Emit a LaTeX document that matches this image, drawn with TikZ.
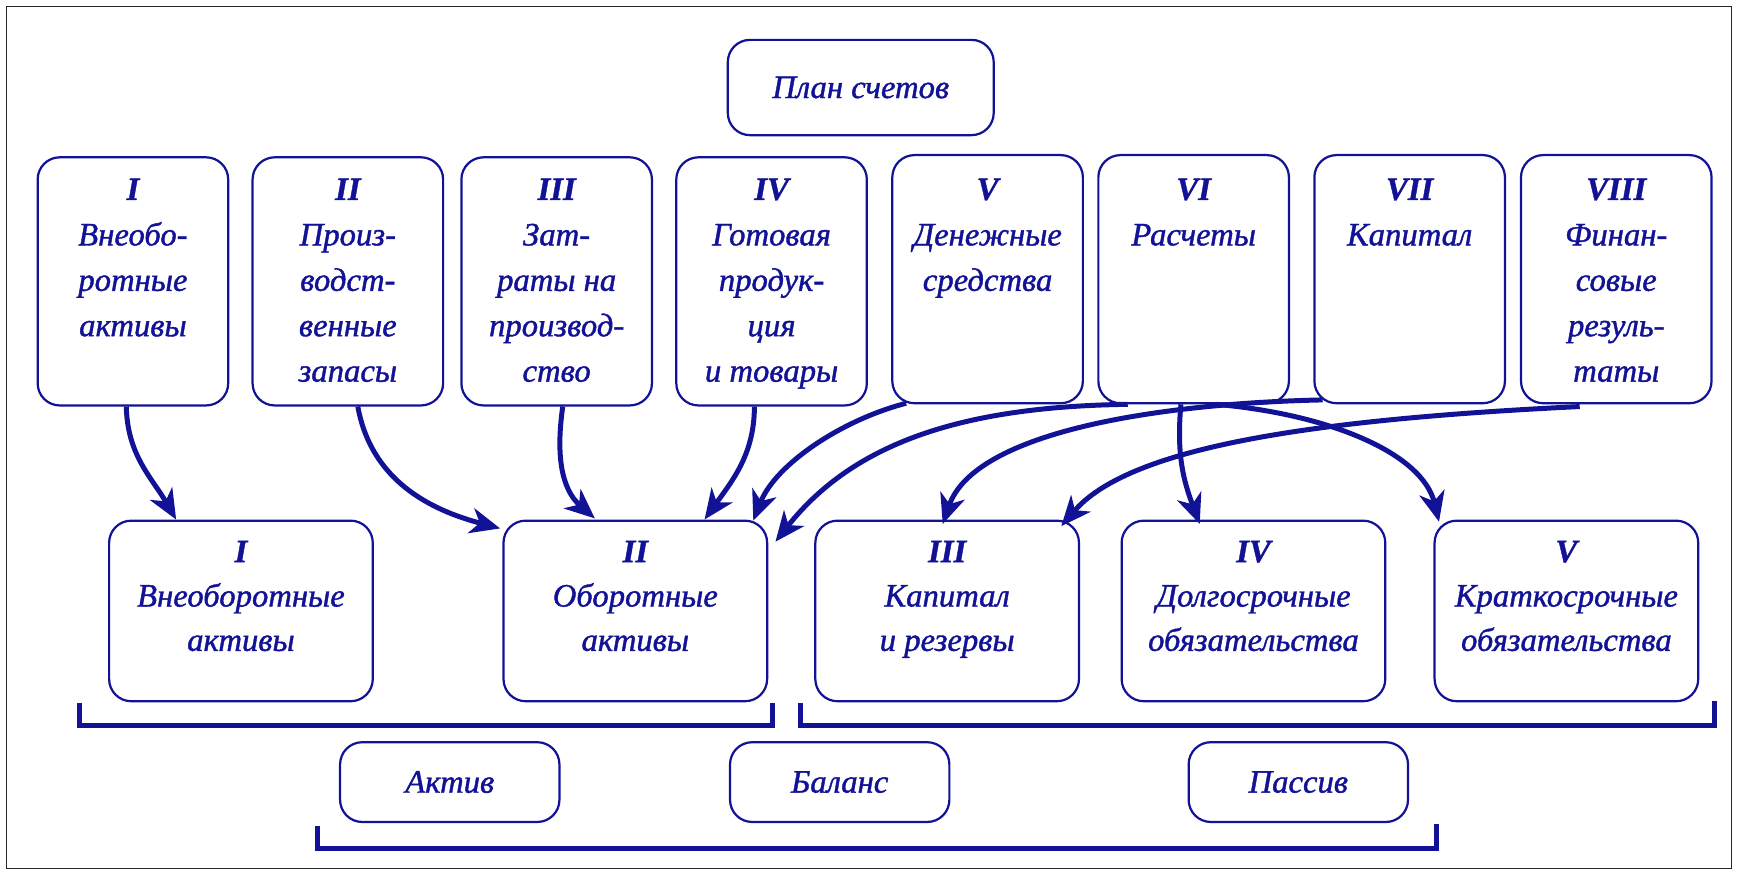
\documentclass[tikz,border=0pt]{standalone}
\usepackage{fontspec}
\setmainfont{Liberation Serif}
\newfontfamily\hwfam{Liberation Serif}[FakeBold=1.2]
\usetikzlibrary{arrows.meta,calc}
\definecolor{ink}{RGB}{18,18,150}
\newcommand{\hwfont}{\hwfam\fontsize{29.5}{41}\selectfont\itshape}
\newcommand{\hwfontb}{\hwfam\fontsize{29.5}{40}\selectfont\itshape}
\newcommand{\rn}[1]{{\bfseries #1}}
\begin{document}
\begin{tikzpicture}[x=1pt,y=1pt,
  basebox/.style={draw=ink, line width=2pt, rounded corners=20pt, inner sep=0pt},
  topbox/.style={basebox, minimum width=172pt, minimum height=224pt},
  lowbox/.style={basebox, minimum width=238pt, minimum height=163pt},
  smallbox/.style={basebox, minimum width=198pt, minimum height=72pt, text=ink, font=\hwfont},
  planbox/.style={basebox, minimum width=240pt, minimum height=86pt, text=ink, font=\hwfont},
  lbl/.style={text=ink, font=\hwfont, align=center, inner sep=0pt, anchor=north},
  lblb/.style={text=ink, font=\hwfontb, align=center, inner sep=0pt, anchor=north},
  arr/.style={draw=ink, line width=4.5pt, -{Stealth[length=27pt,width=23pt,inset=8pt]}},
  brk/.style={draw=ink, line width=4.5pt, line cap=butt, line join=miter}]

\useasboundingbox (0,0) rectangle (1568,-789);
\draw[line width=1.4pt, black!85] (6,-6) rectangle (1563,-784);

% plan
\node[planbox] (plan) at (777,-79) {План счетов};

% top row
\node[topbox] (t1) at (120,-254) {};
\node[topbox] (t2) at (314,-254) {};
\node[topbox] (t3) at (502.5,-254) {};
\node[topbox] (t4) at (696.5,-254) {};
\node[topbox] (t5) at (891.5,-252) {};
\node[topbox] (t6) at (1077.5,-252) {};
\node[topbox] (t7) at (1272.5,-252) {};
\node[topbox] (t8) at (1459,-252) {};

\node[lbl] (t1l) at ([yshift=-20pt]t1.north) {\rn{I}\\Внеобо-\\ротные\\активы};
\node[lbl] (t2l) at ([yshift=-20pt]t2.north) {\rn{II}\\Произ-\\водст-\\венные\\запасы};
\node[lbl] (t3l) at ([yshift=-20pt]t3.north) {\rn{III}\\Зат-\\раты на\\производ-\\ство};
\node[lbl] (t4l) at ([yshift=-20pt]t4.north) {\rn{IV}\\Готовая\\продук-\\ция\\и товары};
\node[lbl] (t5l) at ([yshift=-22pt]t5.north) {\rn{V}\\Денежные\\средства};
\node[lbl] (t6l) at ([yshift=-22pt]t6.north) {\rn{VI}\\Расчеты};
\node[lbl] (t7l) at ([yshift=-22pt]t7.north) {\rn{VII}\\Капитал};
\node[lbl] (t8l) at ([yshift=-22pt]t8.north) {\rn{VIII}\\Финан-\\совые\\резуль-\\таты};

% bottom row
\node[lowbox] (b1) at (217.5,-551.5) {};
\node[lowbox] (b2) at (573.5,-551.5) {};
\node[lowbox] (b3) at (855,-551.5) {};
\node[lowbox] (b4) at (1131.5,-551.5) {};
\node[lowbox] (b5) at (1414,-551.5) {};

\node[lblb] (b1l) at ([yshift=-19pt]b1.north) {\rn{I}\\Внеоборотные\\активы};
\node[lblb] (b2l) at ([yshift=-19pt]b2.north) {\rn{II}\\Оборотные\\активы};
\node[lblb] (b3l) at ([yshift=-19pt]b3.north) {\rn{III}\\Капитал\\и резервы};
\node[lblb] (b4l) at ([yshift=-19pt]b4.north) {\rn{IV}\\Долгосрочные\\обязательства};
\node[lblb] (b5l) at ([yshift=-19pt]b5.north) {\rn{V}\\Краткосрочные\\обязательства};

% small boxes
\node[smallbox] (aktiv) at (406,-706) {Актив};
\node[smallbox] (balans) at (758,-706) {Баланс};
\node[smallbox] (passiv) at (1172,-706) {Пассив};

% brackets
\draw[brk] (72,-635) -- (72,-655) -- (697,-655) -- (697,-635);
\draw[brk] (723,-635) -- (723,-655) -- (1548,-655) -- (1548,-633);
\draw[brk] (287,-746) -- (287,-766) -- (1297,-766) -- (1297,-744);

% arrows
\draw[arr] ([xshift=-6pt]t1.south) .. controls +(1,-44) and +(-22,38) .. ([xshift=-58.5pt]b1.north);
\draw[arr] ([xshift=9pt]t2.south) .. controls +(12,-66) and +(-64.5,17) .. ([xshift=-2pt,yshift=-8pt]b2.north west);
\draw[arr] ([xshift=5.5pt]t3.south) .. controls +(-6,-42) and +(-31,27) .. ([xshift=-36.5pt,yshift=1pt]b2.north);
\draw[arr] ([xshift=-15.5pt]t4.south) .. controls +(0,-43) and +(25,35) .. ([xshift=62.5pt,yshift=0pt]b2.north);
\draw[arr] ([xshift=-73.5pt,yshift=1pt]t5.south) .. controls +(-58,-15) and +(20,51) .. ([xshift=106.5pt,yshift=-1pt]b2.north);
\draw[arr] ([xshift=-59.5pt]t6.south) .. controls +(-148,-2) and +(71,90) .. ([xshift=6.5pt,yshift=-20pt]b2.north east);
\draw[arr] ([xshift=8.5pt,yshift=4pt]t7.south west) .. controls +(-145,-3) and +(29,84) .. ([xshift=-4pt,yshift=-4pt]b3.north);
\draw[arr] ([xshift=-33pt,yshift=-2pt]t8.south) .. controls +(-250,-12) and +(60,70) .. ([xshift=103pt,yshift=-6pt]b3.north);
\draw[arr] ([xshift=-11.5pt]t6.south) .. controls +(-4,-45) and +(-15,40) .. ([xshift=-48.5pt,yshift=-4pt]b4.north);
\draw[arr] ([xshift=20.5pt]t6.south) .. controls +(102,-9) and +(-15,62) .. ([xshift=5pt,yshift=-2pt]b5.north west);
\end{tikzpicture}
\end{document}
